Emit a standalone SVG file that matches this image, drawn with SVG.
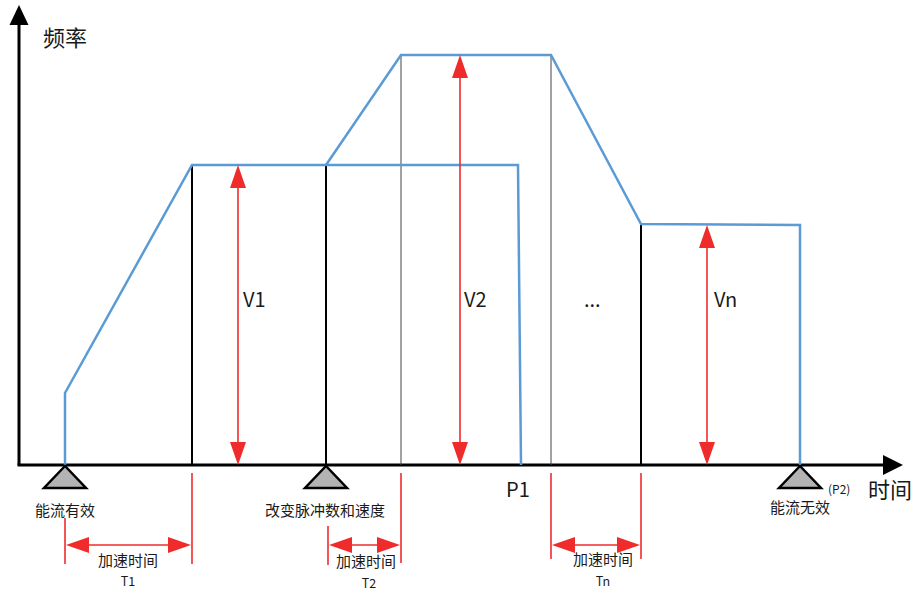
<svg xmlns="http://www.w3.org/2000/svg" width="922" height="592" viewBox="0 0 922 592">
<style>
.ax{stroke:#000;stroke-width:3;fill:none}
.bl{stroke:#5b9bd5;stroke-width:2.5;fill:none;stroke-linejoin:miter}
.vk{stroke:#000;stroke-width:2;fill:none}
.vg{stroke:#444;stroke-width:1;fill:none}
.rd{stroke:#ef2b2b;stroke-width:1.6;fill:none}
.rh{fill:#ef2b2b}
.tri{fill:#b3b3b3;stroke:#000;stroke-width:2.5;stroke-linejoin:miter}
.t{font-family:"Noto Sans CJK SC","Noto Sans",sans-serif;fill:#1a1a1a}
.s{font-size:15px}
.m{font-size:20px}
.big{font-size:22px}
.tt{font-size:12.5px}
</style>
<g id="axes">
<line class="ax" x1="19" y1="465" x2="19" y2="22"/>
<polygon points="19,5 9.5,25 28.5,25" fill="#000"/>
<line class="ax" x1="17.5" y1="465" x2="885" y2="465"/>
<polygon points="903,465 883,455 883,475" fill="#000"/>
<text class="t big" x="43" y="46">频率</text>
<text class="t big" x="868" y="498">时间</text>
</g>
<g id="grid">
<line class="vk" x1="192" y1="165" x2="192" y2="465"/>
<line class="vk" x1="326" y1="165" x2="326" y2="465"/>
<line class="vg" x1="401" y1="55" x2="401" y2="465"/>
<line class="vg" x1="551" y1="55" x2="551" y2="465"/>
<line class="vk" x1="641" y1="224" x2="641" y2="465"/>
</g>
<g id="curves">
<polyline class="bl" points="65,465 65,393 192,165 518,165 521,465"/>
<polyline class="bl" points="326,165 401,55 551,55 641,224 800,225 800,465"/>
</g>
<g id="connectors">
<line class="rd" x1="238" y1="185" x2="238" y2="445"/>
<polygon class="rh" points="238,165 230,188 246,188"/>
<polygon class="rh" points="238,465 230,442 246,442"/>
<line class="rd" x1="460" y1="75" x2="460" y2="445"/>
<polygon class="rh" points="460,55 452,78 468,78"/>
<polygon class="rh" points="460,465 452,442 468,442"/>
<line class="rd" x1="707" y1="245" x2="707" y2="445"/>
<polygon class="rh" points="707,225 699,248 715,248"/>
<polygon class="rh" points="707,465 699,442 715,442"/>
<line class="rd" x1="65" y1="518" x2="65" y2="564"/>
<line class="rd" x1="192" y1="473" x2="192" y2="564"/>
<line class="rd" x1="85" y1="545" x2="172" y2="545"/>
<polygon class="rh" points="66,545 89,537 89,553"/>
<polygon class="rh" points="191,545 168,537 168,553"/>
<line class="rd" x1="328" y1="526" x2="328" y2="565"/>
<line class="rd" x1="401" y1="473" x2="401" y2="563"/>
<line class="rd" x1="345" y1="545" x2="384" y2="545"/>
<polygon class="rh" points="329,545 352,537 352,553"/>
<polygon class="rh" points="400,545 377,537 377,553"/>
<line class="rd" x1="551" y1="473" x2="551" y2="559"/>
<line class="rd" x1="641" y1="473" x2="641" y2="559"/>
<line class="rd" x1="570" y1="545" x2="622" y2="545"/>
<polygon class="rh" points="552,545 575,537 575,553"/>
<polygon class="rh" points="640,545 617,537 617,553"/>
</g>
<g id="labels">
<text class="t m" x="243" y="307">V1</text>
<text class="t m" x="464" y="307">V2</text>
<text class="t m" x="584" y="307">...</text>
<text class="t m" x="714" y="307">Vn</text>
<text class="t m" x="506" y="497">P1</text>
</g>
<g id="n1">
<polygon class="tri" points="65,466 44,488 86,488"/>
<text class="t s" x="65" y="516" text-anchor="middle">能流有效</text>
</g>
<g id="n2">
<polygon class="tri" points="326,466 305,488 347,488"/>
<text class="t s" x="325" y="516" text-anchor="middle">改变脉冲数和速度</text>
</g>
<g id="n3">
<polygon class="tri" points="800,466 779,488 821,488"/>
<text class="t s" x="800" y="513" text-anchor="middle">能流无效</text>
<text class="t" font-size="12" x="828" y="494">(P2)</text>
</g>
<g id="dims">
<text class="t s" x="128" y="566" text-anchor="middle">加速时间</text>
<text class="t tt" x="128" y="586" text-anchor="middle">T1</text>
<text class="t s" x="366" y="567" text-anchor="middle">加速时间</text>
<text class="t tt" x="369" y="588" text-anchor="middle">T2</text>
<text class="t s" x="603" y="565" text-anchor="middle">加速时间</text>
<text class="t tt" x="603" y="586" text-anchor="middle">Tn</text>
</g>
</svg>
